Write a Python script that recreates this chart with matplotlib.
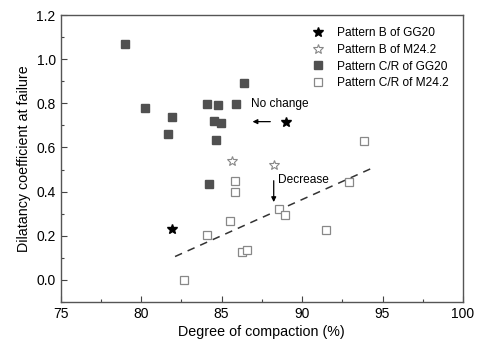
import matplotlib
matplotlib.use("Agg")
import matplotlib.pyplot as plt
from matplotlib.ticker import MultipleLocator

plt.rcParams['font.family'] = ['Liberation Sans', 'DejaVu Sans']

# Pattern B of GG20 (filled stars)
b_gg_x = [89.0, 81.94]
b_gg_y = [0.717, 0.232]
# Pattern B of M24.2 (open stars)
b_m_x = [85.63, 88.26]
b_m_y = [0.539, 0.522]
# Pattern C/R of GG20 (filled squares)
cr_gg_x = [79.0, 80.25, 81.95, 81.7, 84.12, 84.76, 85.9, 86.38, 84.53, 84.99, 84.66, 84.24]
cr_gg_y = [1.067, 0.78, 0.74, 0.663, 0.796, 0.793, 0.796, 0.894, 0.72, 0.711, 0.634, 0.433]
# Pattern C/R of M24.2 (open squares)
cr_m_x = [93.87, 92.94, 85.84, 85.84, 85.53, 84.08, 88.59, 88.96, 86.25, 86.56, 91.49, 82.69]
cr_m_y = [0.63, 0.445, 0.447, 0.399, 0.267, 0.202, 0.322, 0.294, 0.125, 0.136, 0.225, 0.0]
# Trend line (dashed)
trend_x = [82.11, 94.43]
trend_y = [0.106, 0.509]

fig = plt.figure(figsize=(4.81, 3.45), dpi=100)
ax = fig.add_axes([0.126, 0.1246, 0.8366, 0.8319])

ax.plot(trend_x, trend_y, ls=(0, (5, 4)), color='#333333', lw=1.1, zorder=1)
ax.plot(b_gg_x, b_gg_y, ls='none', marker='*', ms=7.5, color='black', mec='black',
        label='Pattern B of GG20', zorder=3)
ax.plot(b_m_x, b_m_y, ls='none', marker='*', ms=7.5, mfc='white', mec='#888888', mew=0.8,
        label='Pattern B of M24.2', zorder=3)
ax.plot(cr_gg_x, cr_gg_y, ls='none', marker='s', ms=5.5, color='#505050', mec='#505050',
        label='Pattern C/R of GG20', zorder=3)
ax.plot(cr_m_x, cr_m_y, ls='none', marker='s', ms=5.7, mfc='white', mec='#888888', mew=0.9,
        label='Pattern C/R of M24.2', zorder=3)

ax.annotate('', xy=(86.75, 0.717), xytext=(88.2, 0.717),
            arrowprops=dict(arrowstyle='-|>', color='black', lw=0.9, mutation_scale=7))
ax.text(86.8, 0.795, 'No change', fontsize=8.6, va='center', ha='left')
ax.annotate('', xy=(88.24, 0.34), xytext=(88.24, 0.462),
            arrowprops=dict(arrowstyle='-|>', color='black', lw=0.9, mutation_scale=7))
ax.text(88.5, 0.453, 'Decrease', fontsize=8.6, va='center', ha='left')

ax.set_xlim(75, 100)
ax.set_ylim(-0.1, 1.2)
ax.xaxis.set_major_locator(MultipleLocator(5))
ax.xaxis.set_minor_locator(MultipleLocator(2.5))
ax.yaxis.set_major_locator(MultipleLocator(0.2))
ax.yaxis.set_minor_locator(MultipleLocator(0.1))
ax.yaxis.set_major_formatter(plt.FuncFormatter(lambda v, p: f'{v:.1f}'))
ax.tick_params(which='both', direction='in', color='#444444', labelsize=10, width=0.8)
ax.tick_params(which='major', length=4)
ax.tick_params(which='minor', length=2.5)
for s in ax.spines.values():
    s.set_color('#555555')
    s.set_linewidth(1.0)

ax.set_xlabel('Degree of compaction (%)', fontsize=10.3, labelpad=3)
ax.set_ylabel('Dilatancy coefficient at failure', fontsize=10.3, labelpad=4)

ax.legend(loc='upper left', bbox_to_anchor=(0.622, 0.958), frameon=False, fontsize=8.6,
          handletextpad=1.0, labelspacing=0.4, borderaxespad=0, borderpad=0,
          handlelength=1.2)

fig.savefig('out.png', dpi=100)
